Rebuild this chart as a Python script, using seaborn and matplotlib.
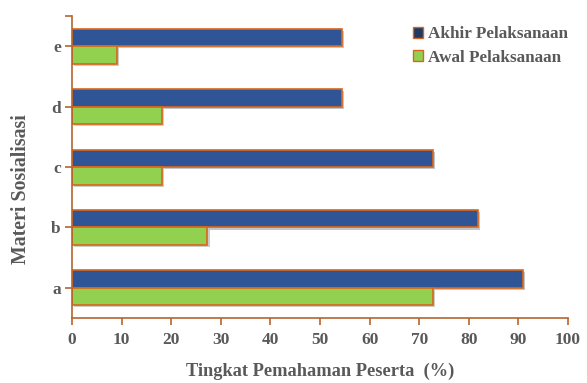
import matplotlib
matplotlib.use("Agg")
import matplotlib.pyplot as plt
import matplotlib.patheffects as pe
from matplotlib.patches import Patch
import seaborn as sns
import pandas as pd

categories = ["e", "d", "c", "b", "a"]
akhir = [54.5, 54.5, 72.7, 81.8, 90.9]
awal = [9.1, 18.2, 18.2, 27.3, 72.7]
series_names = ["Akhir Pelaksanaan", "Awal Pelaksanaan"]
x_ticks = [0, 10, 20, 30, 40, 50, 60, 70, 80, 90, 100]

df = pd.DataFrame({
    "Materi": categories * 2,
    "Nilai": akhir + awal,
    "Seri": [series_names[0]] * len(categories) + [series_names[1]] * len(categories),
})

sns.set_style("white")
plt.rcParams["font.family"] = ["Liberation Serif", "DejaVu Serif"]
plt.rcParams["font.weight"] = "bold"

text_color = "#595959"
spine_color = "#b5652d"
edge_color = "#d9661a"
colors = {series_names[0]: "#2f5597", series_names[1]: "#92d050"}
legend_colors = {series_names[0]: "#203864", series_names[1]: "#92d050"}

fig = plt.figure(figsize=(5.87, 3.83), dpi=100)
ax = fig.add_axes([0.1227, 0.1697, 0.845, 0.788])

sns.barplot(data=df, x="Nilai", y="Materi", hue="Seri", order=categories,
            hue_order=series_names, palette=colors, orient="h", width=0.58,
            saturation=1, edgecolor=edge_color, linewidth=1.2, ax=ax, legend=False)

for p in ax.patches:
    p.set_path_effects([pe.SimplePatchShadow(offset=(1.5, -1.5), alpha=0.25), pe.Normal()])

ax.set_xlim(0, 100)
ax.set_ylim(4.5, -0.5)
ax.set_xticks(x_ticks)
ax.set_xticklabels([str(t) for t in x_ticks])
ax.set_yticks([-0.5], minor=True)

for s in ["top", "right"]:
    ax.spines[s].set_visible(False)
for s in ["left", "bottom"]:
    ax.spines[s].set_color(spine_color)
    ax.spines[s].set_linewidth(1.2)

ax.tick_params(axis="both", which="both", direction="out", length=5, width=1.2,
               color=spine_color, labelcolor=text_color, labelsize=12.5,
               bottom=True, left=True)
ax.tick_params(axis="y", pad=3)
ax.tick_params(axis="x", pad=5)

ax.set_xlabel("Tingkat Pemahaman Peserta  (%)", fontsize=13.2, color=text_color,
              fontweight="bold", labelpad=11)
ax.set_ylabel("Materi Sosialisasi", fontsize=14.3, color=text_color,
              fontweight="bold")
ax.yaxis.set_label_coords(-0.083, 0.427)

handles = [Patch(facecolor=legend_colors[n], edgecolor=edge_color, linewidth=1.0)
           for n in series_names]
leg = ax.legend(handles, series_names, loc="upper right", bbox_to_anchor=(1.03, 1.017),
                frameon=False, fontsize=12.3, handlelength=0.6, handleheight=0.6,
                handletextpad=0.25, labelspacing=0.42)
for t in leg.get_texts():
    t.set_color(text_color)
    t.set_fontweight("bold")

fig.savefig("out.png", dpi=100)
